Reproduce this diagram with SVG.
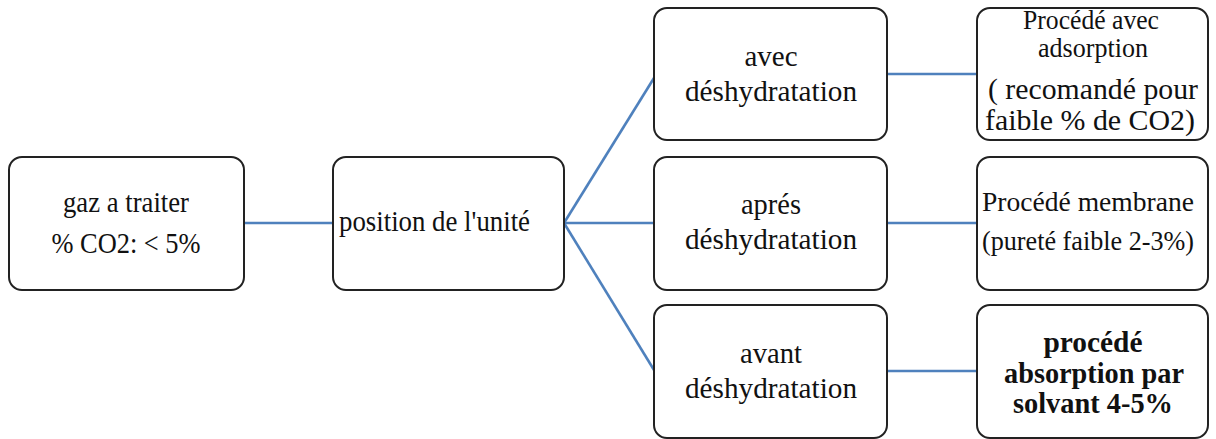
<svg xmlns="http://www.w3.org/2000/svg" width="1216" height="439" viewBox="0 0 1216 439">
<style>
.box{fill:#fff;stroke:#222;stroke-width:2}
.t{font-family:"Liberation Serif","Times New Roman",serif;font-size:30px;fill:#111;text-anchor:middle}
.s{font-size:27px}
.b{font-weight:bold}
.l{text-anchor:start}
.c{stroke:#4f81bd;stroke-width:2.6;fill:none}
</style>
<rect width="1216" height="439" fill="#fff"/>
<g id="connectors">
<line class="c" x1="244" y1="223" x2="333" y2="223"/>
<line class="c" x1="564" y1="223" x2="654" y2="78"/>
<line class="c" x1="564" y1="223" x2="654" y2="223"/>
<line class="c" x1="564" y1="223" x2="654" y2="370"/>
<line class="c" x1="887" y1="74" x2="977" y2="74"/>
<line class="c" x1="887" y1="223" x2="977" y2="223"/>
<line class="c" x1="887" y1="371" x2="977" y2="371"/>
</g>
<g id="n1">
<rect class="box" x="9" y="157" width="235" height="133" rx="13"/>
<text class="t" x="126" y="212" textLength="126" lengthAdjust="spacingAndGlyphs">gaz a traiter</text>
<text class="t" x="126" y="253" textLength="149" lengthAdjust="spacingAndGlyphs">% CO2: &lt; 5%</text>
</g>
<g id="n2">
<rect class="box" x="333" y="157" width="231" height="133" rx="13"/>
<text class="t l" x="339" y="231" textLength="191" lengthAdjust="spacingAndGlyphs">position de l'unité</text>
</g>
<g id="n3a">
<rect class="box" x="654" y="8" width="233" height="132" rx="13"/>
<text class="t" x="771" y="66" textLength="53" lengthAdjust="spacingAndGlyphs">avec</text>
<text class="t" x="771" y="101" textLength="172" lengthAdjust="spacingAndGlyphs">déshydratation</text>
</g>
<g id="n3b">
<rect class="box" x="654" y="157" width="233" height="133" rx="13"/>
<text class="t" x="771" y="214" textLength="60" lengthAdjust="spacingAndGlyphs">aprés</text>
<text class="t" x="771" y="249" textLength="172" lengthAdjust="spacingAndGlyphs">déshydratation</text>
</g>
<g id="n3c">
<rect class="box" x="654" y="305" width="233" height="133" rx="13"/>
<text class="t" x="771" y="363" textLength="62" lengthAdjust="spacingAndGlyphs">avant</text>
<text class="t" x="771" y="398" textLength="172" lengthAdjust="spacingAndGlyphs">déshydratation</text>
</g>
<g id="n4a">
<rect class="box" x="977" y="8" width="231" height="132" rx="13"/>
<text class="t s" x="1091" y="29" textLength="136" lengthAdjust="spacingAndGlyphs">Procédé avec</text>
<text class="t s" x="1093" y="57" textLength="110" lengthAdjust="spacingAndGlyphs">adsorption</text>
<text class="t" x="1093" y="99" textLength="210" lengthAdjust="spacingAndGlyphs">( recomandé pour</text>
<text class="t" x="1090" y="130" textLength="210" lengthAdjust="spacingAndGlyphs">faible % de CO2)</text>
</g>
<g id="n4b">
<rect class="box" x="977" y="157" width="231" height="133" rx="13"/>
<text class="t s l" x="982" y="211" textLength="212" lengthAdjust="spacingAndGlyphs">Procédé membrane</text>
<text class="t s l" x="982" y="250" textLength="212" lengthAdjust="spacingAndGlyphs">(pureté faible 2-3%)</text>
</g>
<g id="n4c">
<rect class="box" x="977" y="305" width="231" height="133" rx="13"/>
<text class="t b" x="1093" y="352" textLength="99" lengthAdjust="spacingAndGlyphs">procédé</text>
<text class="t b" x="1094" y="383" textLength="180" lengthAdjust="spacingAndGlyphs">absorption par</text>
<text class="t b" x="1093" y="413" textLength="160" lengthAdjust="spacingAndGlyphs">solvant 4-5%</text>
</g>
</svg>
